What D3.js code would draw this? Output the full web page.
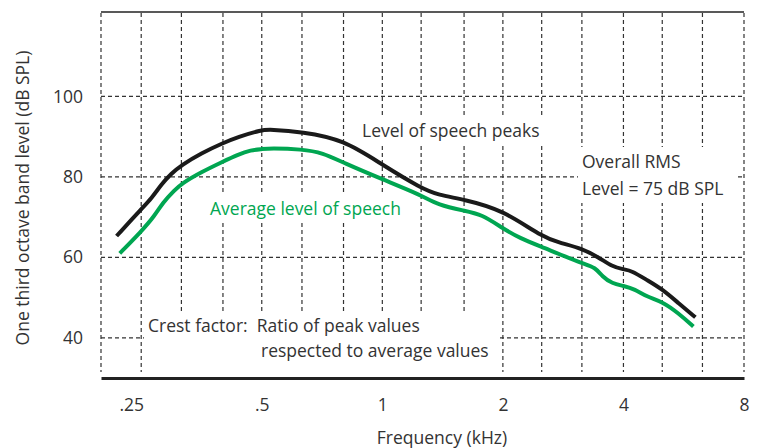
<!DOCTYPE html>
<html>
<head>
<meta charset="utf-8">
<script src="https://cdn.jsdelivr.net/npm/d3@7"></script>
<style>
  body { margin: 0; background: #fff; }
  text { font-family: "Open Sans", sans-serif; fill: #333; }
</style>
</head>
<body>
<svg id="plotarea"></svg>
<script>
// third-octave grid frequencies (kHz)
var gridFreqs = [0.1984, 0.25, 0.315, 0.4, 0.5, 0.63, 0.8, 1, 1.25, 1.6, 2, 2.5, 3.15, 4, 5, 6.3, 8];
var xTicks = [0.25, 0.5, 1, 2, 4, 8];
var xTickLabels = [".25", ".5", "1", "2", "4", "8"];
var yTicks = [40, 60, 80, 100];

// level of speech peaks
var peakFreq  = [0.217, 0.25, 0.265, 0.281, 0.297, 0.315, 0.353, 0.4, 0.435, 0.5, 0.524, 0.63, 0.8, 1, 1.25, 1.38, 1.6, 2, 2.5, 2.8, 3.15, 3.47, 3.75, 4, 4.19, 4.57, 5, 5.49, 6.05];
var peakLevel = [65.3, 72.0, 74.6, 78.2, 80.8, 82.9, 85.9, 88.4, 89.9, 91.7, 91.8, 91.2, 89.3, 83.0, 77.2, 75.5, 74.4, 71.8, 65.1, 63.5, 62.2, 60.0, 57.7, 57.0, 56.7, 54.4, 52.1, 48.6, 45.1];

// average level of speech
var avgFreq  = [0.221, 0.25, 0.27, 0.283, 0.303, 0.315, 0.353, 0.4, 0.435, 0.47, 0.5, 0.524, 0.63, 0.71, 0.8, 1, 1.25, 1.38, 1.6, 1.77, 2, 2.21, 2.5, 3.15, 3.41, 3.54, 3.75, 4, 4.27, 4.57, 5, 5.49, 5.98];
var avgLevel = [61.0, 66.4, 70.3, 73.6, 76.7, 78.3, 81.2, 83.8, 85.5, 86.7, 86.9, 87.1, 86.9, 86.0, 83.5, 79.4, 75.5, 73.0, 71.6, 70.7, 67.2, 64.7, 62.6, 58.5, 57.5, 55.2, 53.5, 52.9, 52.1, 50.2, 49.0, 46.1, 42.8];

var width = 758, height = 448;
var margin = {left: 101, right: 744, top: 12, bottom: 378};
var fs = "17.5px";

var svg = d3.select("#plotarea")
    .attr("width", width)
    .attr("height", height);

var x = d3.scaleLog().base(2)
    .domain([0.1984, 8])
    .range([margin.left, margin.right]);

var y = d3.scaleLinear()
    .domain([30, 121])
    .range([margin.bottom, margin.top]);

var grid = svg.append("g")
    .attr("stroke", "#333")
    .attr("stroke-width", 1.2)
    .attr("stroke-dasharray", "4,3");

grid.selectAll(".vgrid")
    .data(gridFreqs)
    .enter().append("line")
    .attr("class", "vgrid")
    .attr("x1", function(d) { return x(d); })
    .attr("x2", function(d) { return x(d); })
    .attr("y1", margin.top + 1)
    .attr("y2", margin.bottom - 6);

grid.selectAll(".hgrid")
    .data(yTicks)
    .enter().append("line")
    .attr("class", "hgrid")
    .attr("x1", margin.left)
    .attr("x2", margin.right)
    .attr("y1", function(d) { return y(d); })
    .attr("y2", function(d) { return y(d); });

// white boxes behind the annotations
var boxes = [[356, 117, 191, 29], [578, 147, 159, 56], [205, 195, 205, 27], [144, 311, 353, 65]];
svg.selectAll(".box")
    .data(boxes)
    .enter().append("rect")
    .attr("x", function(d) { return d[0]; })
    .attr("y", function(d) { return d[1]; })
    .attr("width", function(d) { return d[2]; })
    .attr("height", function(d) { return d[3]; })
    .attr("fill", "#fff");

// frame
svg.append("line")
    .attr("x1", margin.left).attr("x2", margin.right)
    .attr("y1", margin.top).attr("y2", margin.top)
    .attr("stroke", "#222").attr("stroke-width", 1.5);

var xAxis = svg.append("g")
    .attr("transform", "translate(0," + margin.bottom + ")")
    .call(d3.axisBottom(x).tickValues(xTicks).tickSize(0)
        .tickFormat(function(d, i) { return xTickLabels[i]; }));
xAxis.select(".domain").attr("stroke", "#222").attr("stroke-width", 3);
xAxis.selectAll("text")
    .attr("y", 21)
    .attr("dx", function(d, i) { return i == 0 ? -10 : 0; })
    .style("font-size", fs)
    .style("font-family", "'Open Sans', sans-serif")
    .attr("fill", "#333");

var yAxis = svg.append("g")
    .attr("transform", "translate(" + margin.left + ",0)")
    .call(d3.axisLeft(y).tickValues(yTicks).tickSize(0));
yAxis.select(".domain").remove();
yAxis.selectAll("text")
    .attr("x", -18)
    .style("font-size", fs)
    .style("font-family", "'Open Sans', sans-serif")
    .attr("fill", "#333");

// curves
var line = d3.line()
    .x(function(d) { return x(d[0]); })
    .y(function(d) { return y(d[1]); })
    .curve(d3.curveBasis);

svg.append("path")
    .datum(d3.zip(avgFreq, avgLevel))
    .attr("d", line)
    .attr("fill", "none")
    .attr("stroke", "#00a651")
    .attr("stroke-width", 4);

svg.append("path")
    .datum(d3.zip(peakFreq, peakLevel))
    .attr("d", line)
    .attr("fill", "none")
    .attr("stroke", "#1a1a1a")
    .attr("stroke-width", 4);

// labels
svg.append("text").attr("x", 362).attr("y", 137).style("font-size", fs)
    .text("Level of speech peaks");
svg.append("text").attr("x", 582).attr("y", 168).style("font-size", fs)
    .text("Overall RMS");
svg.append("text").attr("x", 582).attr("y", 195).style("font-size", fs)
    .text("Level = 75 dB SPL");
svg.append("text").attr("x", 210).attr("y", 215).style("font-size", fs)
    .style("fill", "#00a651")
    .text("Average level of speech");
svg.append("text").attr("x", 148).attr("y", 332).style("font-size", fs)
    .attr("xml:space", "preserve")
    .text("Crest factor:  Ratio of peak values");
svg.append("text").attr("x", 261).attr("y", 357).style("font-size", fs)
    .text("respected to average values");

svg.append("text")
    .attr("x", 442).attr("y", 444)
    .attr("text-anchor", "middle")
    .style("font-size", fs)
    .text("Frequency (kHz)");

svg.append("text")
    .attr("transform", "translate(29,198) rotate(-90)")
    .attr("text-anchor", "middle")
    .style("font-size", fs)
    .text("One third octave band level (dB SPL)");
</script>
</body>
</html>
